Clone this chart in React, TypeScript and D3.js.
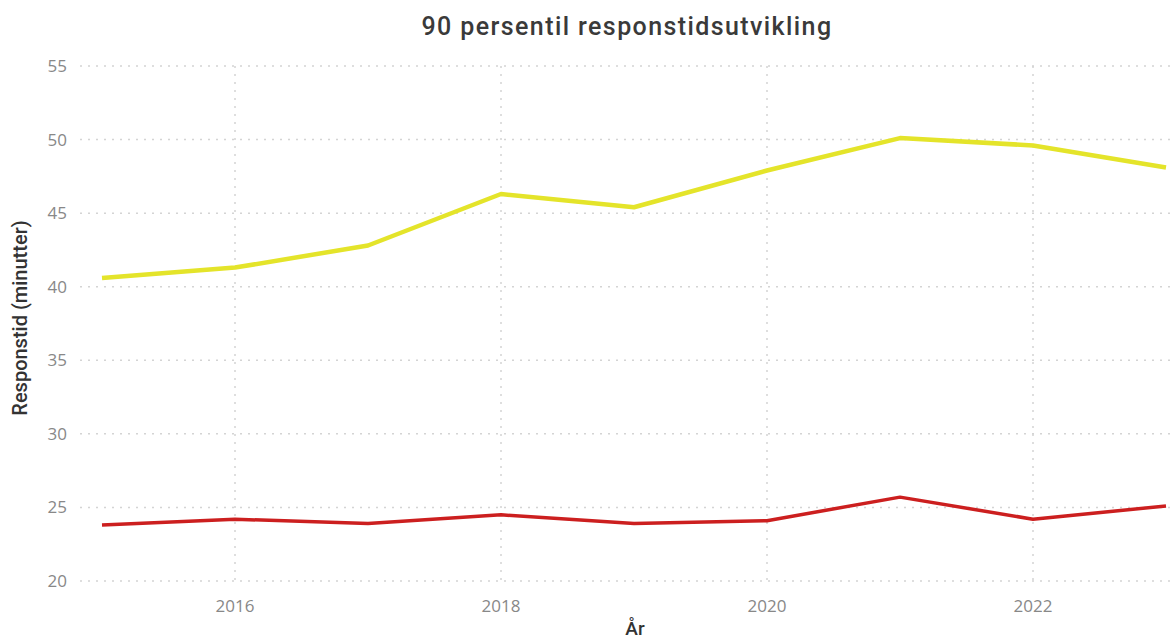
import React from "react";
import * as d3 from "d3";

const years = [2015, 2016, 2017, 2018, 2019, 2020, 2021, 2022, 2023];
const yellowSeries = [40.6, 41.3, 42.8, 46.3, 45.4, 47.9, 50.1, 49.6, 48.1];
const redSeries = [23.8, 24.2, 23.9, 24.5, 23.9, 24.1, 25.7, 24.2, 25.1];
const xTicks = [2016, 2018, 2020, 2022];
const yTicks = [20, 25, 30, 35, 40, 45, 50, 55];
const title = "90 persentil responstidsutvikling";
const xTitle = "År";
const yTitle = "Responstid (minutter)";

const W = 1173;
const H = 641;

export default function App() {
  const x = d3.scaleLinear().domain([2015, 2023]).range([102, 1166]);
  const y = d3.scaleLinear().domain([20, 55]).range([581, 66]);
  const line = d3
    .line<number>()
    .x((_, i) => x(years[i]))
    .y((v) => y(v));

  return (
    <svg
      width={W}
      height={H}
      style={{ position: "absolute", left: 0, top: 0, background: "#fff" }}
    >
      <text
        x={627}
        y={35}
        textAnchor="middle"
        fontFamily="Roboto, sans-serif"
        fontWeight={500}
        fontSize={25}
        letterSpacing={1.4}
        fill="#3a3a3a"
      >
        {title}
      </text>
      {yTicks.map((t) => (
        <g key={"y" + t}>
          <line
            x1={80}
            x2={W}
            y1={y(t)}
            y2={y(t)}
            stroke="#d4d4d4"
            strokeWidth={1.5}
            strokeDasharray="2 6"
          />
          <text
            x={67}
            y={y(t) + 6}
            textAnchor="end"
            fontFamily="Open Sans, sans-serif"
            fontSize={17}
            fill="#888"
          >
            {t}
          </text>
        </g>
      ))}
      {xTicks.map((t) => (
        <g key={"x" + t}>
          <line
            x1={x(t)}
            x2={x(t)}
            y1={y(55)}
            y2={y(20)}
            stroke="#d4d4d4"
            strokeWidth={1.5}
            strokeDasharray="2 6"
          />
          <text
            x={x(t)}
            y={612}
            textAnchor="middle"
            fontFamily="Open Sans, sans-serif"
            fontSize={17}
            fill="#888"
          >
            {t}
          </text>
        </g>
      ))}
      <path
        d={line(yellowSeries) || ""}
        fill="none"
        stroke="#e4e42a"
        strokeWidth={4.5}
        strokeLinejoin="round"
      />
      <path
        d={line(redSeries) || ""}
        fill="none"
        stroke="#cc1f1f"
        strokeWidth={3.5}
        strokeLinejoin="round"
      />
      <text
        x={635}
        y={635}
        textAnchor="middle"
        fontFamily="Roboto, sans-serif"
        fontWeight={500}
        fontSize={19}
        fill="#333"
      >
        {xTitle}
      </text>
      <text
        transform={`translate(27, ${318}) rotate(-90)`}
        textAnchor="middle"
        fontFamily="Roboto, sans-serif"
        fontWeight={500}
        fontSize={20}
        fill="#333"
      >
        {yTitle}
      </text>
    </svg>
  );
}
